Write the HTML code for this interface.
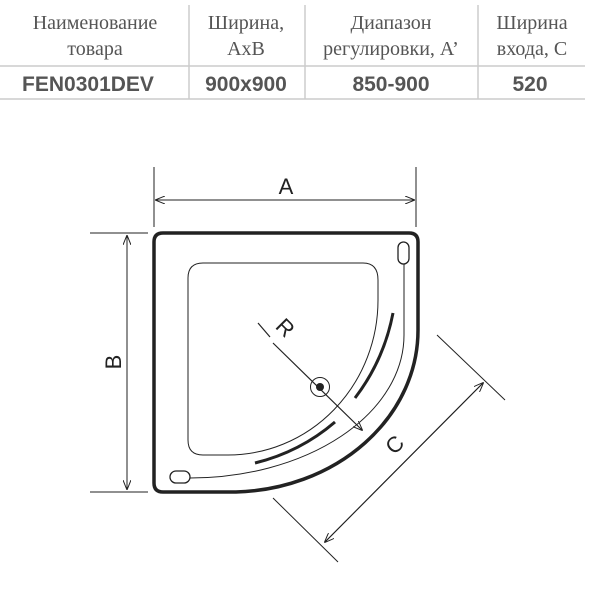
<!DOCTYPE html>
<html><head><meta charset="utf-8"><style>
body{margin:0;width:600px;height:600px;background:#fff;overflow:hidden}
</style></head><body>
<svg width="600" height="600" viewBox="0 0 600 600" xmlns="http://www.w3.org/2000/svg">
<g stroke="#ccc" stroke-width="1.5">
<line x1="0" y1="66" x2="585" y2="66"/>
<line x1="0" y1="99" x2="585" y2="99"/>
<line x1="189" y1="5" x2="189" y2="99"/>
<line x1="305" y1="5" x2="305" y2="99"/>
<line x1="478" y1="5" x2="478" y2="99"/>
</g>
<g font-family="Liberation Serif, serif" font-size="20" fill="#555" text-anchor="middle">
<text x="95" y="29">Наименование</text><text x="95" y="55">товара</text>
<text x="246" y="29">Ширина,</text><text x="246" y="55">AxB</text>
<text x="391" y="29">Диапазон</text><text x="391" y="55">регулировки, A’</text>
<text x="532" y="29">Ширина</text><text x="532" y="55">входа, C</text>
</g>
<g font-family="Liberation Sans, sans-serif" font-weight="bold" font-size="21" fill="#555" text-anchor="middle">
<text x="88" y="91">FEN0301DEV</text><text x="246" y="91">900x900</text>
<text x="391" y="91">850-900</text><text x="530" y="91">520</text>
</g>
<defs><marker id="ar" markerWidth="10" markerHeight="8" refX="9" refY="4" orient="auto" markerUnits="userSpaceOnUse"><path d="M0,0 L10,4 L0,8" fill="none" stroke="#222" stroke-width="1"/></marker></defs>
<g stroke="#222" fill="none">
<path d="M163,233 H409 Q418,233 418,242 V330 A188 162 0 0 1 236 492 H163 Q154 492 154 483 V242 Q154 233 163 233 Z" stroke-width="3.5"/>
<path d="M203,263 H363 Q378,263 378,280 V300 A150 155 0 0 1 228 455 H203 Q188 455 188 440 V278 Q188 263 203 263 Z" stroke-width="1"/>
<path d="M404,262 V335 A214 143 0 0 1 190 478" stroke-width="1"/>
<rect x="398" y="242" width="11" height="22" rx="5.5" stroke-width="1.3" fill="#fff"/>
<rect x="170" y="471" width="20" height="12" rx="6" stroke-width="1.3" fill="#fff"/>
<path d="M393,313 Q384,360 355,398" stroke-width="3"/>
<path d="M335,422 Q300,452 255,463" stroke-width="3"/>
<circle cx="320" cy="387" r="9.5" stroke-width="1"/>
<circle cx="320" cy="387" r="4" fill="#222" stroke="none"/>
<line x1="258" y1="323" x2="270" y2="337" stroke-width="1.2"/>
<line x1="273" y1="343" x2="362" y2="430" stroke-width="1.2" marker-end="url(#ar)"/>
<g stroke-width="1">
<line x1="154" y1="167" x2="154" y2="227"/><line x1="416" y1="167" x2="416" y2="227"/>
<line x1="156" y1="200" x2="414" y2="200" marker-end="url(#ar)"/>
<line x1="414" y1="200" x2="156" y2="200" marker-end="url(#ar)"/>
<line x1="90" y1="233" x2="148" y2="233"/><line x1="90" y1="492" x2="148" y2="492"/>
<line x1="127" y1="236" x2="127" y2="489" marker-end="url(#ar)"/>
<line x1="127" y1="489" x2="127" y2="236" marker-end="url(#ar)"/>
<line x1="437" y1="335" x2="505" y2="400"/><line x1="273" y1="498" x2="338" y2="562"/>
<line x1="483" y1="383" x2="325" y2="542" marker-end="url(#ar)"/>
<line x1="325" y1="542" x2="483" y2="383" marker-end="url(#ar)"/>
</g>
</g>
<g font-family="Liberation Sans, sans-serif" font-size="22" fill="#222" text-anchor="middle">
<text x="286" y="194">A</text>
<text transform="translate(121,362) rotate(-90)">B</text>
<text transform="translate(280,333) rotate(45)">R</text>
<text transform="translate(400,450) rotate(-45)">C</text>
</g>
</svg>
</body></html>
